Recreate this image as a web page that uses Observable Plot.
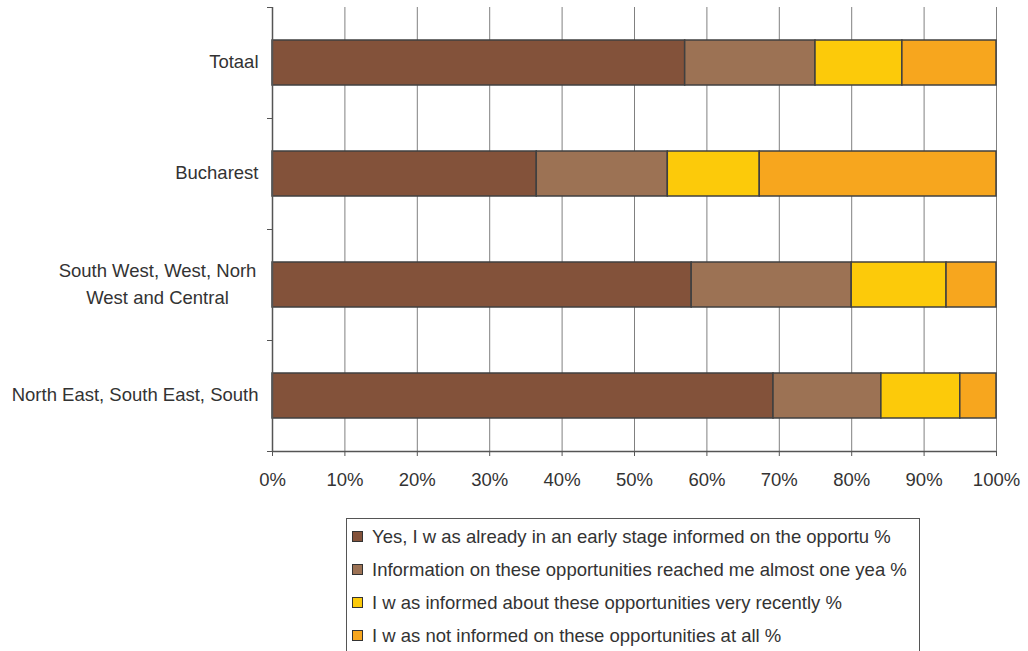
<!DOCTYPE html>
<html><head><meta charset="utf-8">
<script src="https://cdn.jsdelivr.net/npm/d3@7"></script>
<script src="https://cdn.jsdelivr.net/npm/@observablehq/plot@0.6"></script>
<style>
body{margin:0;background:#fff;font-family:"Liberation Sans",Arial,sans-serif;color:#333;}
#chart{position:absolute;left:0;top:0;}
#legend{position:absolute;left:346px;top:518px;width:574px;height:160px;border:1px solid #555;box-sizing:border-box;background:#fff;padding-top:1px;}
.item{display:flex;align-items:center;height:33px;font-size:18.5px;white-space:nowrap;}
.sw{width:9px;height:9px;border:1px solid #333;margin-left:5px;margin-right:9px;flex:none;}
</style></head><body><div id="chart"></div><div id="legend"></div>
<script>
const regions = ["Totaal", "Bucharest", "South West, West, Norh\nWest and Central", "North East, South East, South"];
const seriesNames = [
  "Yes, I w as already in an early stage informed on the opportu %",
  "Information on these opportunities reached me almost one yea %",
  "I w as informed about these opportunities very recently %",
  "I w as not informed on these opportunities at all %"
];
const early    = [57.0, 36.5, 57.9, 69.2];
const yearAgo  = [18.0, 18.1, 22.1, 14.9];
const recent   = [12.0, 12.7, 13.1, 10.9];
const notAtAll = [13.0, 32.7,  6.9,  5.0];
const xTicks = [0, 10, 20, 30, 40, 50, 60, 70, 80, 90, 100];
const colors = ["#83523A", "#9C7254", "#FCCA0A", "#F7A61E"];

const seriesValues = [early, yearAgo, recent, notAtAll];
const data = regions.flatMap((r, i) => seriesNames.map((s, j) => ({region: r, series: s, value: seriesValues[j][i]})));

const H = 500, MT = 7, MB = 49;
const bw = (H - MT - MB) / regions.length;

const plot = Plot.plot({
  width: 1028, height: H,
  marginLeft: 272, marginRight: 32, marginTop: MT, marginBottom: MB,
  style: {fontFamily: '"Liberation Sans", Arial, sans-serif', fontSize: "18.5px", color: "#333", background: "#fff", overflow: "visible"},
  x: {domain: [0, 100], label: null},
  y: {domain: regions, padding: 0, label: null},
  color: {domain: seriesNames, range: colors},
  marks: [
    Plot.gridX(xTicks, {stroke: "#808080", strokeOpacity: 1}),
    Plot.barX(data, Plot.stackX({y: "region", x: "value", fill: "series", order: seriesNames, stroke: "#404040", strokeWidth: 1.5, insetTop: 33, insetBottom: 33})),
    Plot.ruleX([0], {stroke: "#555", strokeWidth: 1.5}),
    Plot.ruleY(regions.slice(-1), {y: d => d, dy: bw / 2, stroke: "#555", strokeWidth: 1.5}),
    Plot.axisY({tickSize: 5, tickFormat: () => "", dy: -bw / 2, stroke: "#555", label: null}),
    Plot.axisY(regions.slice(-1), {tickSize: 5, tickFormat: () => "", dy: bw / 2, stroke: "#555", label: null}),
    Plot.axisY({tickSize: 0, tickPadding: 14, dy: -1, tickFormat: d => d.includes("\n") ? "" : d, fill: "#333", label: null}),
    Plot.text(regions.filter(d => d.includes("\n")), {y: d => d, text: d => d, frameAnchor: "left", textAnchor: "middle", dx: -115, dy: -3, lineHeight: 1.45, fill: "#333", fontSize: 18.5}),
    Plot.axisX(xTicks, {tickSize: 5, tickPadding: 16, tickFormat: d => d + "%", stroke: "#555", fill: "#333", label: null})
  ]
});
document.getElementById("chart").appendChild(plot);

const legend = document.getElementById("legend");
seriesNames.forEach((s, j) => {
  const it = document.createElement("div");
  it.className = "item";
  const sw = document.createElement("span");
  sw.className = "sw";
  sw.style.background = colors[j];
  const tx = document.createElement("span");
  tx.textContent = s;
  it.appendChild(sw); it.appendChild(tx);
  legend.appendChild(it);
});
</script>
</body></html>
